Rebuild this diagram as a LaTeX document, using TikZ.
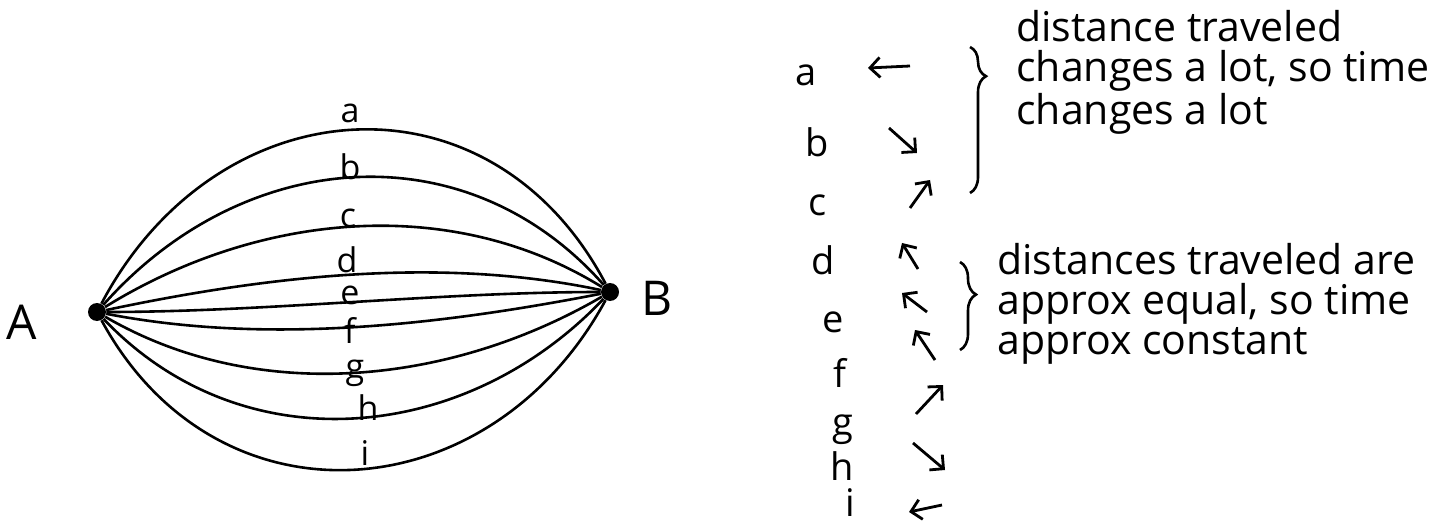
\documentclass[tikz,border=0pt]{standalone}
\usepackage{fontspec}
\setmainfont{Open Sans}
\usetikzlibrary{arrows.meta,decorations.pathreplacing}

\begin{document}
\begin{tikzpicture}[x=0.5pt,y=-0.5pt,
    route/.style={line width=1.3pt},
    dot/.style={circle,fill=black,inner sep=0pt,minimum size=9pt},
    vertex/.style={font=\fontsize{24}{24}\selectfont,inner sep=0pt},
    tag/.style={font=\fontsize{17}{17}\selectfont,inner sep=0pt},
    rowtag/.style={font=\fontsize{19}{19}\selectfont,inner sep=0pt},
    trend/.style={line width=1.4pt,-{Straight Barb[length=5pt,width=10pt]}},
    note/.style={anchor=west,align=left,font=\fontsize{20.5}{20}\selectfont,inner sep=0pt},
    grp/.style={line width=1.3pt,decorate,decoration={brace,amplitude=8pt,aspect=#1}}]
    \useasboundingbox (0,0) rectangle (1445,529);

    % Drawing the two end points
    \node[dot] (A) at (97,312) {};
    \node[dot] (B) at (610,292) {};
    \node[vertex] (lA) at (22,322) {A};
    \node[vertex] (lB) at (657,298) {B};

    % Drawing the paths from A to B
    \foreach \p/\dx/\dy in {a/120/-227, b/145/-164, c/160/-99, d/170/-36, e/170/0,
                            f/170/33, g/160/93, h/145/153, i/120/221} {
        \draw[route] (A) .. controls +(\dx,\dy) and +(-\dx,\dy) .. (B);
    }
    \foreach \p/\x/\y in {a/350/113, b/350/167, c/348/218, d/347/260, e/350/295,
                          f/350/330, g/355/373, h/368/408, i/365/453}
        \node[tag] (t\p) at (\x,\y) {\p};

    % Letters and the way the time changes
    \foreach \p/\x/\y in {a/806/75, b/817/142, c/818/205, d/823/260, e/833/322,
                          f/840/373, g/843/430, h/842/466, i/850/503}
        \node[rowtag] (r\p) at (\x,\y) {\p};
    \foreach \p/\x/\y/\u/\v in {a/910/66/868/68, b/889/128/917/153, c/910/208/930/180,
                                d/918/269/902/243, e/927/312/902/293, f/935/360/915/330,
                                g/916/414/943/385, h/913/443/945/470, i/942/505/909/512} {
        \coordinate (s\p) at (\x,\y);
        \coordinate (e\p) at (\u,\v);
        \draw[trend] (s\p) -- (e\p);
    }

    % Braces and notes
    \coordinate (top1) at (970,47);
    \coordinate (bot1) at (970,193);
    \draw[grp=0.2] (top1) -- (bot1);
    \coordinate (top2) at (960,262);
    \coordinate (bot2) at (960,350);
    \draw[grp=0.37] (top2) -- (bot2);
    \node[note] (n1) at (1016,72) {distance traveled\\changes a lot, so time\\changes a lot};
    \node[note] (n2) at (997,304) {distances traveled are\\approx equal, so time\\approx constant};
\end{tikzpicture}
\end{document}
